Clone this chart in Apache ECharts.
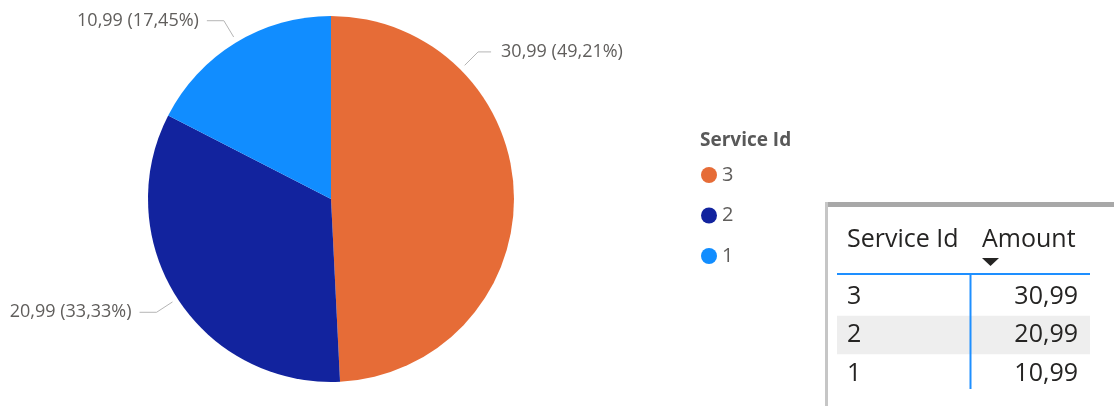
<!DOCTYPE html>
<html><head><meta charset="utf-8">
<script src="https://cdn.jsdelivr.net/npm/echarts@6/dist/echarts.min.js"></script>
<style>html,body{margin:0;padding:0;background:#fff}#c{width:1114px;height:406px}</style>
</head><body><div id="c"></div>
<script>
// ---- data ----
const serviceIds = ['3', '2', '1'];
const amounts = [30.99, 20.99, 10.99];
const sliceColors = ['#E66C37', '#12239E', '#118DFF'];
const legendTitle = 'Service Id';
const tableHeaders = ['Service Id', 'Amount'];

// ---- helpers ----
const FONT = '"Open Sans", "Noto Sans", sans-serif';
const fmt = v => v.toFixed(2).replace('.', ',');
const total = amounts.reduce((a, b) => a + b, 0);
const pct = v => (v / total * 100).toFixed(2).replace('.', ',') + '%';

const CX = 331, CY = 199, R = 183;
const labelAngles = [45, 237, 329]; // label anchor directions, deg clockwise from top
const labelArm = [13, 17, 17];      // horizontal part of each label line
const labelGap = [10, 8, 8];        // gap between line end and text
function pt(angle, rad) {
  const a = angle * Math.PI / 180;
  return [CX + rad * Math.sin(a), CY - rad * Math.cos(a)];
}

// ---- table (graphic) ----
const TX = 825, TY = 202;
const rowY0 = 296.5, rowH = 38.5;
const colLeft = 847, colRight = 1078, amountLeft = 982;
const graphics = [];
function txt(x, y, s, opt) {
  return Object.assign({ type: 'text', x: x, y: y, silent: true,
    style: Object.assign({ text: s, fill: '#252423', fontSize: 25, fontFamily: FONT,
      align: 'left', verticalAlign: 'middle', textAlign: 'left', textVerticalAlign: 'middle' }, opt || {}) });
}
// legend title
graphics.push(txt(700, 141, legendTitle, { fontSize: 19, fontWeight: 'bold', fill: '#595959' }));
// frame
graphics.push({ type: 'rect', silent: true, shape: { x: TX, y: TY, width: 1114 - TX, height: 5 }, style: { fill: '#A8A8A8' } });
graphics.push({ type: 'rect', silent: true, shape: { x: TX, y: TY, width: 3, height: 406 - TY }, style: { fill: '#C6C6C6' } });
// striped rows
serviceIds.forEach((id, i) => {
  if (i % 2 === 1) {
    graphics.push({ type: 'rect', silent: true,
      shape: { x: 837, y: rowY0 + i * rowH - rowH / 2, width: 253, height: rowH },
      style: { fill: '#EEEEEE' } });
  }
});
// header
graphics.push(txt(colLeft, 240, tableHeaders[0]));
graphics.push(txt(amountLeft, 240, tableHeaders[1]));
graphics.push({ type: 'polygon', silent: true, shape: { points: [[982, 258], [999, 258], [990.5, 266]] }, style: { fill: '#252423' } });
graphics.push({ type: 'rect', silent: true, shape: { x: 837, y: 273, width: 253, height: 2 }, style: { fill: '#1E8FFF' } });
graphics.push({ type: 'rect', silent: true, shape: { x: 969.5, y: 274, width: 2, height: 115 }, style: { fill: '#1E8FFF' } });
// rows
serviceIds.forEach((id, i) => {
  const y = rowY0 + i * rowH;
  graphics.push(txt(colLeft, y, id));
  graphics.push(txt(colRight, y, fmt(amounts[i]), { align: 'right', textAlign: 'right' }));
});

const chart = echarts.init(document.getElementById('c'));
chart.setOption({
  animation: false,
  backgroundColor: '#ffffff',
  legend: {
    orient: 'vertical', left: 696, top: 160,
    icon: 'circle', itemWidth: 16, itemHeight: 16, itemGap: 20.5,
    selectedMode: false,
    data: serviceIds,
    textStyle: { fontSize: 20, color: '#605E5C', fontFamily: FONT }
  },
  graphic: graphics,
  series: [{
    type: 'pie',
    center: [CX, CY], radius: R,
    startAngle: 90, clockwise: true,
    avoidLabelOverlap: false,
    silent: true,
    emphasis: { disabled: true },
    data: serviceIds.map((id, i) => ({ name: id, value: amounts[i], itemStyle: { color: sliceColors[i] } })),
    itemStyle: { borderWidth: 0 },
    label: {
      show: true, position: 'outside',
      formatter: p => fmt(p.value) + ' (' + pct(p.value) + ')',
      fontSize: 18, fontFamily: FONT, color: '#605E5C'
    },
    labelLine: { show: true, lineStyle: { color: '#B5B5B5', width: 1 } },
    labelLayout: function (params) {
      const i = params.dataIndex;
      const a = labelAngles[i];
      const p0 = pt(a, R + 6), p1 = pt(a, R + 25);
      const dir = Math.sin(a * Math.PI / 180) >= 0 ? 1 : -1;
      const p2 = [p1[0] + dir * labelArm[i], p1[1]];
      return {
        x: p2[0] + dir * labelGap[i], y: p2[1],
        align: dir > 0 ? 'left' : 'right', verticalAlign: 'middle',
        labelLinePoints: [p0, p1, p2]
      };
    }
  }]
});
</script>
</body></html>
